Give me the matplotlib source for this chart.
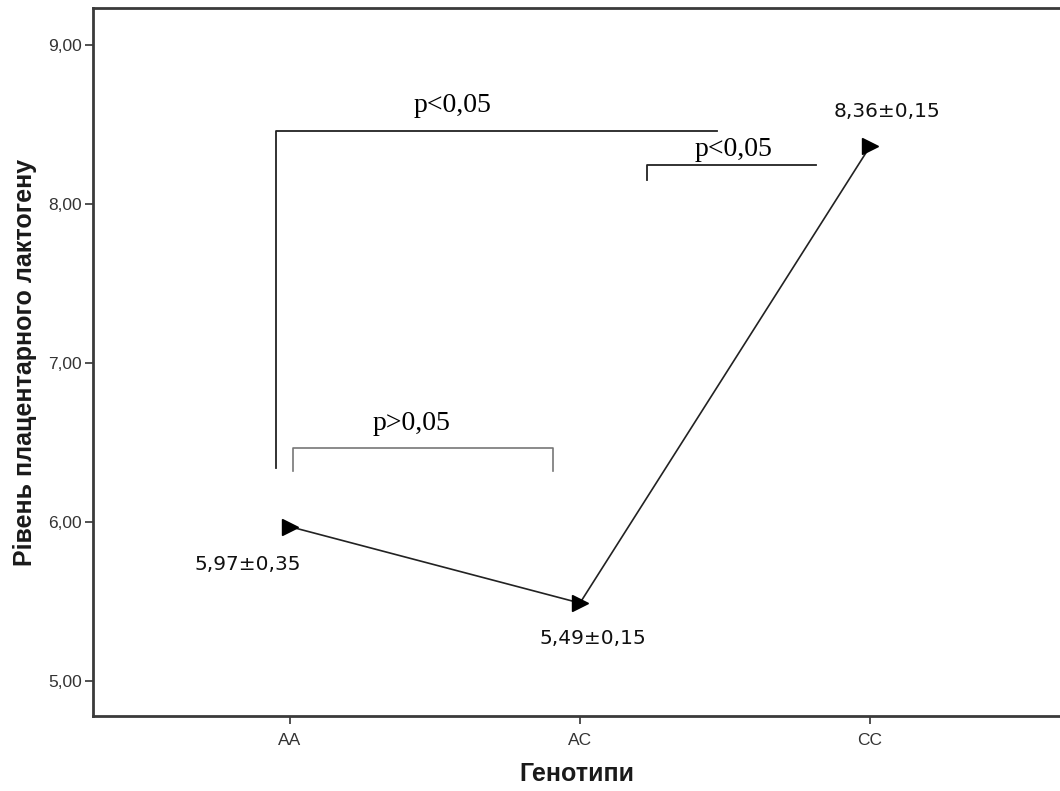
import numpy as np
import matplotlib.pyplot as plt

# genotype means for placental lactogen level
genotypes = ['AA', 'AC', 'CC']
means = [5.97, 5.49, 8.36]
errors = [0.35, 0.15, 0.15]
yticks = [5.0, 6.0, 7.0, 8.0, 9.0]

def fmt(v):
    return f'{v:.2f}'.replace('.', ',')

plt.rcParams['font.family'] = ['Liberation Sans', 'DejaVu Sans']

fig = plt.figure(figsize=(10.6, 7.91), dpi=100)
ax = fig.add_axes([0.0877, 0.0948, 0.9123, 0.8951])

x = np.arange(len(genotypes))
ax.plot(x, means, color='#222222', lw=1.2, zorder=2)
ax.plot(x, means, linestyle='none', marker='>', markersize=12,
        color='black', zorder=3)

ax.set_xlim(-0.679, 2.655)
ax.set_ylim(4.78, 9.23)
ax.set_xticks(x)
ax.set_xticklabels(genotypes)
ax.set_yticks(yticks)
ax.set_yticklabels([fmt(v) for v in yticks])
ax.tick_params(labelsize=12.5, colors='#333333', length=6, width=1.2,
               labelcolor='#333333')
ax.tick_params(axis='x', pad=6)
ax.tick_params(axis='y', pad=2)

for s in ['left', 'bottom', 'top']:
    ax.spines[s].set_color('#3a3a3a')
    ax.spines[s].set_linewidth(2)
ax.spines['right'].set_visible(False)

ax.set_xlabel('Генотипи', fontsize=18, fontweight='bold', labelpad=10,
              color='#1a1a1a')
ax.set_ylabel('Рівень плацентарного лактогену', fontsize=18,
              fontweight='bold', labelpad=8, color='#1a1a1a')

# value labels under / above the markers
label_pos = [(-0.145, 5.73), (1.045, 5.27), (2.06, 8.58)]
for (lx, ly), m, e in zip(label_pos, means, errors):
    ax.text(lx, ly, f'{fmt(m)}±{fmt(e)}', ha='center', va='center',
            fontsize=14.5, family='DejaVu Sans', color='#111111')

# significance brackets
serif = 'Liberation Serif'
ax.plot([-0.048, -0.048, 1.472], [6.34, 8.46, 8.46], color='#222222', lw=1.3)
ax.text(0.562, 8.62, 'p<0,05', ha='center', va='center', fontsize=20,
        family=serif)

ax.plot([1.231, 1.231, 1.814], [8.15, 8.245, 8.245], color='#222222', lw=1.3)
ax.text(1.528, 8.34, 'p<0,05', ha='center', va='center', fontsize=20,
        family=serif)

ax.plot([0.01, 0.01, 0.907, 0.907], [6.32, 6.465, 6.465, 6.32],
        color='#777777', lw=1.2)
ax.text(0.42, 6.62, 'p>0,05', ha='center', va='center', fontsize=20,
        family=serif)

fig.savefig('out.png', dpi=100)
